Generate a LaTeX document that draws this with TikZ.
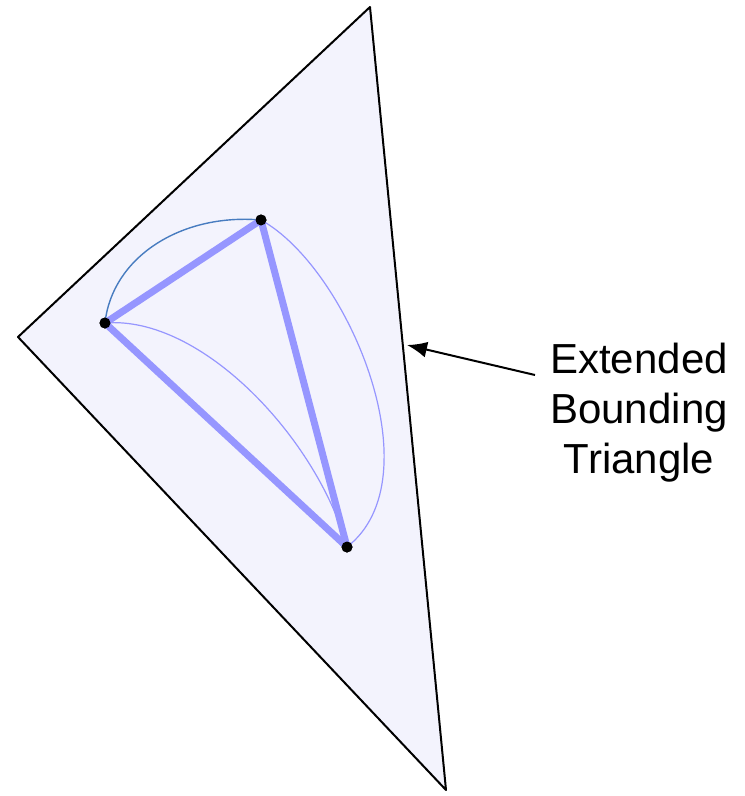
\documentclass[tikz,border=0pt]{standalone}
\usepackage{fontspec}
\setmainfont{Liberation Sans}
\usetikzlibrary{arrows.meta}
\definecolor{trifill}{RGB}{243,243,253}
\definecolor{edgeblue}{RGB}{150,150,255}
\definecolor{arcblue}{RGB}{72,124,192}
\begin{document}
\begin{tikzpicture}[
        x=1pt, y=-1pt,
        vertex/.style={
            circle,
            fill=black,
            inner sep=0pt,
            minimum size=11pt
        },
        edge/.style={
            line width=7pt,
            draw=edgeblue
        },
        arc/.style={
            line width=1.2pt,
            draw=edgeblue
        },
        arrow/.style={
            -{Latex[length=20pt, width=16pt]},
            line width=2pt
        }
    ]
        \useasboundingbox (0,0) rectangle (745,796);

        % bounding triangle
        \coordinate (top) at (370,7);
        \coordinate (left) at (18,337);
        \coordinate (bottom) at (446,790);
        \filldraw[fill=trifill, line width=2pt, line join=round] (top) -- (left) -- (bottom) -- cycle;

        % triangle vertices
        \node[vertex] (a) at (105,323) {};
        \node[vertex] (b) at (261,220) {};
        \node[vertex] (c) at (347,547) {};

        \draw[arc] (a.center) .. controls (202,315) and (318,440) .. (c.center);
        \draw[arc] (b.center) .. controls (348,268) and (436,478) .. (c.center);
        \draw[line width=1.4pt, draw=arcblue] (a.center) .. controls (112,258) and (180,213) .. (b.center);

        \draw[edge] (a.center) -- (b.center);
        \draw[edge] (b.center) -- (c.center);
        \draw[edge] (c.center) -- (a.center);

        \node[vertex] at (a) {};
        \node[vertex] at (b) {};
        \node[vertex] at (c) {};

        % label
        \node[align=center, font=\fontsize{42}{50}\selectfont] (label) at (639,413) {Extended\\Bounding\\Triangle};
        \coordinate (tail) at (535,375);
        \coordinate (tip) at (407,345);
        \draw[arrow] (tail) -- (tip);

    \end{tikzpicture}
\end{document}
